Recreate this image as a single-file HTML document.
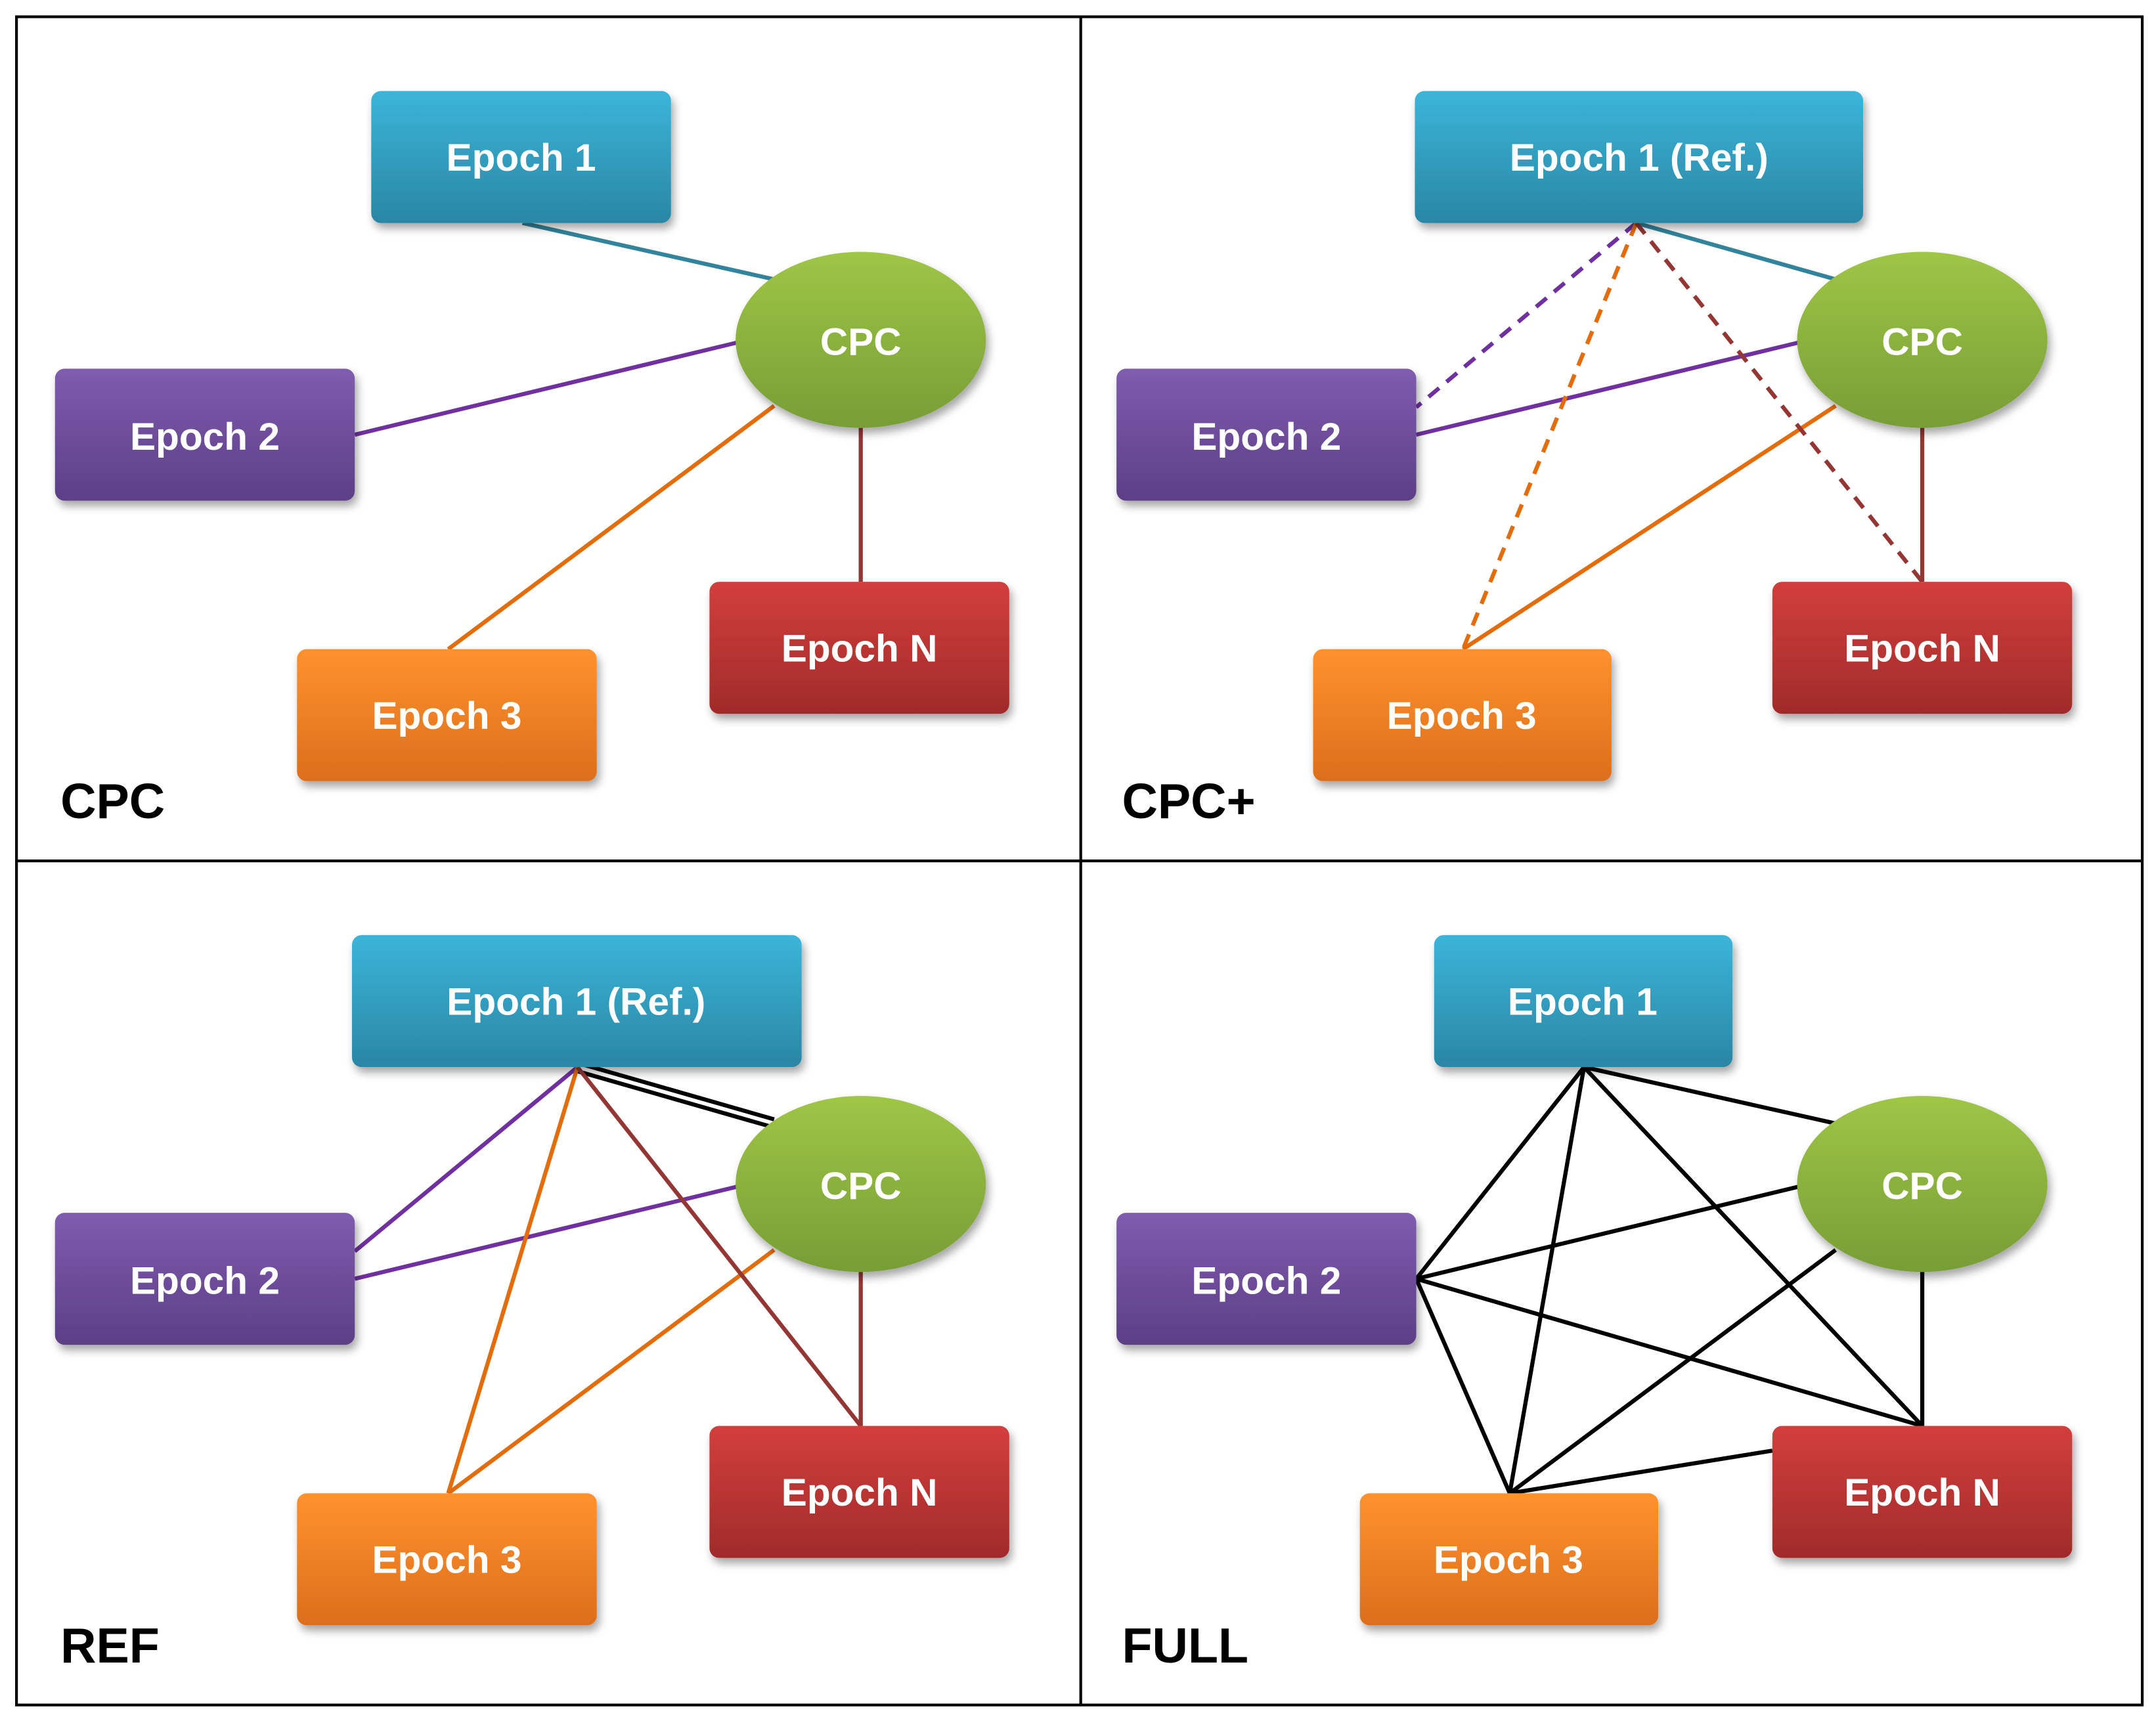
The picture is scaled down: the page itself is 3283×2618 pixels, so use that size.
<!DOCTYPE html>
<html><head><meta charset="utf-8"><style>
html,body{margin:0;padding:0;background:#fff;}
svg{display:block;}
text{font-family:"Liberation Sans",sans-serif;font-weight:bold;}
</style></head><body>
<svg width="3283" height="2618" viewBox="0 0 1568 1250" xmlns="http://www.w3.org/2000/svg">
<defs>
<linearGradient id="gb" x1="0" y1="0" x2="0" y2="1"><stop offset="0" stop-color="#3bb5d9"/><stop offset="1" stop-color="#2a86a4"/></linearGradient>
<linearGradient id="gp" x1="0" y1="0" x2="0" y2="1"><stop offset="0" stop-color="#7f5caf"/><stop offset="1" stop-color="#5c3f86"/></linearGradient>
<linearGradient id="go" x1="0" y1="0" x2="0" y2="1"><stop offset="0" stop-color="#ff922e"/><stop offset="1" stop-color="#dc6e1c"/></linearGradient>
<linearGradient id="gr" x1="0" y1="0" x2="0" y2="1"><stop offset="0" stop-color="#d23f3c"/><stop offset="1" stop-color="#a02b2a"/></linearGradient>
<linearGradient id="gg" x1="0" y1="0" x2="0" y2="1"><stop offset="0" stop-color="#9fc646"/><stop offset="1" stop-color="#779d36"/></linearGradient>
<filter id="sh" x="-20%" y="-20%" width="140%" height="150%"><feDropShadow dx="2" dy="4" stdDeviation="3" flood-color="#000" flood-opacity="0.35"/></filter>
</defs>
<rect x="12" y="12" width="1546" height="1228" fill="none" stroke="#000" stroke-width="2"/>
<line x1="786" y1="12" x2="786" y2="1240" stroke="#000" stroke-width="2"/>
<line x1="12" y1="626" x2="1558" y2="626" stroke="#000" stroke-width="2"/>

<g stroke-width="3" fill="none">
<!-- P1 -->
<line x1="380" y1="162" x2="563" y2="203" stroke="#31849b"/>
<line x1="258" y1="316" x2="536" y2="249" stroke="#7030a0"/>
<line x1="326" y1="472" x2="563" y2="295" stroke="#e46c0a"/>
<line x1="626" y1="423" x2="626" y2="311" stroke="#943634"/>
<!-- P2 -->
<line x1="1190" y1="162" x2="1335" y2="203" stroke="#31849b"/>
<line x1="1190" y1="162" x2="1030" y2="296" stroke="#7030a0" stroke-dasharray="10,7"/>
<line x1="1030" y1="316" x2="1308" y2="249" stroke="#7030a0"/>
<line x1="1190" y1="162" x2="1064" y2="472" stroke="#e46c0a" stroke-dasharray="10,7"/>
<line x1="1064" y1="472" x2="1335" y2="295" stroke="#e46c0a"/>
<line x1="1190" y1="162" x2="1398" y2="423" stroke="#943634" stroke-dasharray="10,7"/>
<line x1="1398" y1="423" x2="1398" y2="311" stroke="#943634"/>
<!-- P3 -->
<line x1="420" y1="773" x2="563" y2="814" stroke="#000"/>
<line x1="420" y1="779" x2="563" y2="820" stroke="#000"/>
<line x1="420" y1="776" x2="258" y2="910" stroke="#7030a0"/>
<line x1="258" y1="930" x2="536" y2="863" stroke="#7030a0"/>
<line x1="420" y1="776" x2="326" y2="1086" stroke="#e46c0a"/>
<line x1="326" y1="1086" x2="563" y2="909" stroke="#e46c0a"/>
<line x1="420" y1="776" x2="626" y2="1037" stroke="#943634"/>
<line x1="626" y1="1037" x2="626" y2="925" stroke="#943634"/>
<!-- P4 -->
<g stroke="#000">
<line x1="1152" y1="776" x2="1335" y2="817"/>
<line x1="1152" y1="776" x2="1030" y2="930"/>
<line x1="1152" y1="776" x2="1098" y2="1086"/>
<line x1="1152" y1="776" x2="1398" y2="1037"/>
<line x1="1030" y1="930" x2="1308" y2="863"/>
<line x1="1030" y1="930" x2="1098" y2="1086"/>
<line x1="1030" y1="930" x2="1398" y2="1037"/>
<line x1="1098" y1="1086" x2="1335" y2="909"/>
<line x1="1098" y1="1086" x2="1289" y2="1055"/>
<line x1="1398" y1="925" x2="1398" y2="1037"/>
</g>
</g>

<g filter="url(#sh)">
<rect x="270" y="66" width="218" height="96" rx="7" fill="url(#gb)"/>
<ellipse cx="626" cy="247" rx="91" ry="64" fill="url(#gg)"/>
<rect x="40" y="268" width="218" height="96" rx="7" fill="url(#gp)"/>
<rect x="216" y="472" width="218" height="96" rx="7" fill="url(#go)"/>
<rect x="516" y="423" width="218" height="96" rx="7" fill="url(#gr)"/>

<rect x="1029" y="66" width="326" height="96" rx="7" fill="url(#gb)"/>
<ellipse cx="1398" cy="247" rx="91" ry="64" fill="url(#gg)"/>
<rect x="812" y="268" width="218" height="96" rx="7" fill="url(#gp)"/>
<rect x="955" y="472" width="217" height="96" rx="7" fill="url(#go)"/>
<rect x="1289" y="423" width="218" height="96" rx="7" fill="url(#gr)"/>

<rect x="256" y="680" width="327" height="96" rx="7" fill="url(#gb)"/>
<ellipse cx="626" cy="861" rx="91" ry="64" fill="url(#gg)"/>
<rect x="40" y="882" width="218" height="96" rx="7" fill="url(#gp)"/>
<rect x="216" y="1086" width="218" height="96" rx="7" fill="url(#go)"/>
<rect x="516" y="1037" width="218" height="96" rx="7" fill="url(#gr)"/>

<rect x="1043" y="680" width="217" height="96" rx="7" fill="url(#gb)"/>
<ellipse cx="1398" cy="861" rx="91" ry="64" fill="url(#gg)"/>
<rect x="812" y="882" width="218" height="96" rx="7" fill="url(#gp)"/>
<rect x="989" y="1086" width="217" height="96" rx="7" fill="url(#go)"/>
<rect x="1289" y="1037" width="218" height="96" rx="7" fill="url(#gr)"/>
</g>

<g fill="#fff" font-size="28" text-anchor="middle">
<text x="379" y="124">Epoch 1</text>
<text x="626" y="258">CPC</text>
<text x="149" y="327">Epoch 2</text>
<text x="325" y="530">Epoch 3</text>
<text x="625" y="481">Epoch N</text>

<text x="1192" y="124">Epoch 1 (Ref.)</text>
<text x="1398" y="258">CPC</text>
<text x="921" y="327">Epoch 2</text>
<text x="1063" y="530">Epoch 3</text>
<text x="1398" y="481">Epoch N</text>

<text x="419" y="738">Epoch 1 (Ref.)</text>
<text x="626" y="872">CPC</text>
<text x="149" y="941">Epoch 2</text>
<text x="325" y="1144">Epoch 3</text>
<text x="625" y="1095">Epoch N</text>

<text x="1151" y="738">Epoch 1</text>
<text x="1398" y="872">CPC</text>
<text x="921" y="941">Epoch 2</text>
<text x="1097" y="1144">Epoch 3</text>
<text x="1398" y="1095">Epoch N</text>
</g>

<g fill="#000" font-size="36">
<text x="44" y="595">CPC</text>
<text x="816" y="595">CPC+</text>
<text x="44" y="1209">REF</text>
<text x="816" y="1209">FULL</text>
</g>
</svg>
</body></html>
